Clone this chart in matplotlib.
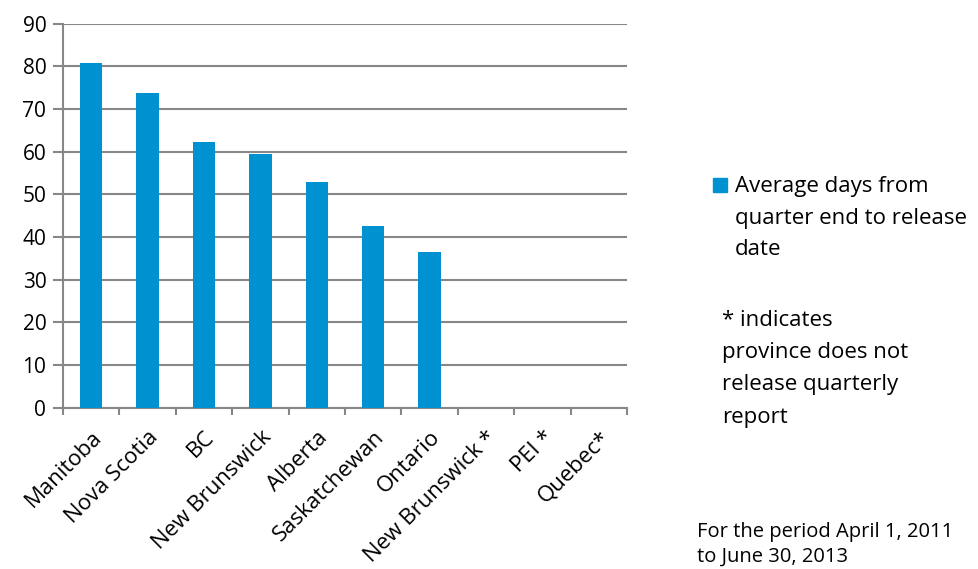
#!/usr/bin/env python3
"""
Average days from quarter end to release date, by province
"""

import numpy as np
import matplotlib
matplotlib.use("Agg")
import matplotlib.pyplot as plt
from matplotlib.patches import Rectangle

provinces = ["Manitoba", "Nova Scotia", "BC", "New Brunswick", "Alberta",
             "Saskatchewan", "Ontario", "New Brunswick *", "PEI *", "Quebec*"]
avg_days = [80.8, 73.6, 62.3, 59.5, 52.9, 42.6, 36.5, 0, 0, 0]
y_ticks = [0, 10, 20, 30, 40, 50, 60, 70, 80, 90]
series_label = "Average days from\nquarter end to release\ndate"

BAR_COLOR = "#0092D0"
GRID_COLOR = "#878787"
FONT = "Open Sans"

plt.rcParams["font.family"] = [FONT, "DejaVu Sans"]

W, H = 979, 569
fig = plt.figure(figsize=(W / 100, H / 100), dpi=100)
ax = fig.add_axes([63 / W, 1 - 407.5 / H, (627 - 63) / W, (407.5 - 23.5) / H])

x = np.arange(len(provinces))
ax.bar(x, avg_days, width=0.4, color=BAR_COLOR, zorder=3)

ax.set_xlim(-0.5, len(provinces) - 0.5)
ax.set_ylim(0, 90)
ax.set_yticks(y_ticks)
ax.yaxis.grid(True, color=GRID_COLOR, linewidth=1.5, zorder=0)
ax.set_axisbelow(True)

for side in ("top", "right"):
    ax.spines[side].set_visible(False)
for side in ("left", "bottom"):
    ax.spines[side].set_color(GRID_COLOR)
    ax.spines[side].set_linewidth(1.5)

# category labels at the centres, tick marks between categories
ax.set_xticks(x)
ax.set_xticklabels(provinces, rotation=45, ha="right", rotation_mode="anchor",
                   fontsize=16)
ax.set_xticks(np.arange(-0.5, len(provinces)), minor=True)
ax.tick_params(axis="x", which="major", length=0, pad=14)
ax.tick_params(axis="x", which="minor", length=5, width=1.5, color=GRID_COLOR,
               direction="out")
ax.tick_params(axis="y", length=7, width=1.5, color=GRID_COLOR, pad=5,
               labelsize=15)

# legend: square key next to the first line of the label
fig.add_artist(Rectangle((713 / W, 1 - 192 / H), 14 / W, 14 / H,
                         transform=fig.transFigure, color=BAR_COLOR))
fig.text(735 / W, 1 - 176 / H, series_label, fontsize=16, va="top",
         ha="left", linespacing=1.66)

fig.text(722 / W, 1 - 310 / H,
         "* indicates\nprovince does not\nrelease quarterly\nreport",
         fontsize=16, va="top", ha="left", linespacing=1.7)

fig.text(697 / W, 1 - 522 / H,
         "For the period April 1, 2011\nto June 30, 2013",
         fontsize=14.5, va="top", ha="left", linespacing=1.3)

fig.savefig("out.png", dpi=100)
plt.close(fig)
